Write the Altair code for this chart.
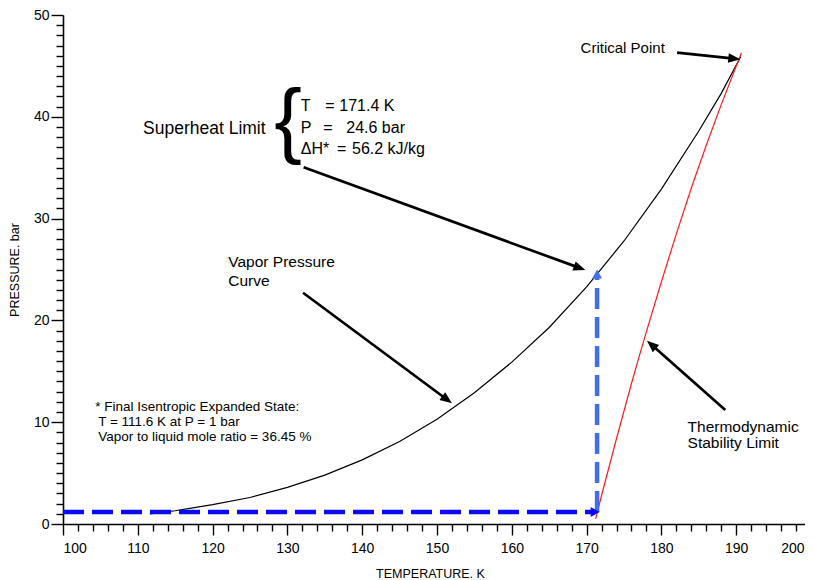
import math
import altair as alt
import pandas as pd

# ---------------- data ----------------
# Vapor pressure curve (temperature K, pressure bar)
vp_T = [111.6, 115, 120, 125, 130, 135, 140, 145, 150, 155, 160, 165, 170, 175, 180, 185, 188, 190.6]
vp_P = [1.0, 1.3, 1.9, 2.6, 3.6, 4.8, 6.3, 8.1, 10.3, 12.9, 15.9, 19.3, 23.3, 27.8, 32.9, 38.6, 42.3, 45.9]

# Thermodynamic stability limit
sl_T = [171.2, 172, 173, 174, 175, 176, 177, 178, 180, 182, 184, 186, 188, 190.7]
sl_P = [0.5, 2.8, 5.6, 8.4, 11.1, 13.8, 16.4, 18.9, 23.8, 28.5, 33.0, 37.2, 41.2, 46.3]

# black annotation arrows: start -> tip
arr_T0 = [182.1, 132.17, 132.09, 188.54]
arr_P0 = [46.3, 35.04, 22.72, 11.2]
arr_T1 = [190.55, 169.83, 152.0, 178.07]
arr_P1 = [45.65, 24.95, 11.86, 18.0]

# blue dashed path: expansion state -> superheat limit
blue_T0 = [100.0, 171.4]
blue_P0 = [1.18, 1.18]
blue_T1 = [171.75, 171.4]
blue_P1 = [1.18, 25.0]
blue_col = ["#0a0af5", "#3f6ef2"]

# annotation texts
txt_text = ["Critical Point", "Superheat Limit",
            "T", "=", "171.4 K",
            "P", "=", "24.6 bar",
            "\u0394H*", "=", "56.2 kJ/kg",
            "Vapor Pressure", "Curve",
            "* Final Isentropic Expanded State:",
            "T = 111.6 K at P = 1 bar",
            "Vapor to liquid mole ratio = 36.45 %",
            "Thermodynamic", "Stability Limit"]
txt_T = [169.2, 110.7,
         131.8, 135.07, 136.94,
         131.8, 134.8, 137.87,
         131.8, 136.63, 138.64,
         122.1, 122.1,
         104.3, 104.7, 104.7,
         183.5, 183.5]
txt_P = [46.27, 38.3,
         40.57, 40.57, 40.57,
         38.41, 38.41, 38.41,
         36.35, 36.35, 36.35,
         25.27, 23.38,
         11.13, 9.63, 8.18,
         9.07, 7.44]
txt_size = [15, 17.5,
            16, 16, 16,
            16, 16, 16,
            16, 16, 16,
            15.5, 15.5,
            13.5, 13.5, 13.5,
            15.5, 15.5]

brace_T = [130.1]
brace_P = [36.9]

x_ticks = list(range(100, 201, 2))
y_ticks = list(range(0, 51, 1))

# ---------------- chart ----------------
W, H = 748, 509
XD, YD = [100, 200], [0, 50]
kx = W / (XD[1] - XD[0])
ky = H / (YD[1] - YD[0])
FONT = "Liberation Sans"


def arrow_parts(T0, P0, T1, P1, L):
    dx = (T1 - T0) * kx
    dy = -(P1 - P0) * ky
    n = math.hypot(dx, dy)
    ux, uy = dx / n, dy / n
    Tb = T1 - L * 0.7 * ux / kx
    Pb = P1 + L * 0.7 * uy / ky
    ang = math.degrees(math.atan2(dx, -dy)) % 360
    return Tb, Pb, ang


X = alt.X("x:Q", scale=alt.Scale(domain=XD, nice=False, zero=False),
          axis=alt.Axis(values=x_ticks, title="TEMPERATURE. K", grid=False,
                        tickSize={"condition": {"test": "datum.value % 10 === 0", "value": 11}, "value": 7},
                        labelExpr="datum.value % 10 === 0 ? datum.label : ''",
                        labelFlush=True,
                        labelOffset={"condition": {"test": "datum.value === 200", "value": -7}, "value": 0},
                        labelPadding=6, labelFontSize=14, labelFont=FONT, labelColor="black",
                        domainColor="black", domainWidth=1.6, tickColor="black", tickWidth=1.4,
                        titleFont=FONT, titleFontSize=12.5, titleFontWeight="normal", titleColor="black",
                        titleX=367, titleY=53, titleAlign="center", titleBaseline="alphabetic"))
Y = alt.Y("y:Q", scale=alt.Scale(domain=YD, nice=False, zero=False),
          axis=alt.Axis(values=y_ticks, title="PRESSURE. bar", grid=False,
                        tickSize={"condition": {"test": "datum.value % 10 === 0", "value": 12}, "value": 7},
                        labelExpr="datum.value % 10 === 0 ? datum.label : ''",
                        labelFlush=False,
                        labelPadding=2, labelFontSize=14, labelFont=FONT, labelColor="black",
                        domainColor="black", domainWidth=1.6, tickColor="black", tickWidth=1.4,
                        titleFont=FONT, titleFontSize=12.5, titleFontWeight="normal", titleColor="black",
                        titleX=-49, titleY=254.5, titleAngle=270, titleAlign="center",
                        titleBaseline="middle"))

vp_df = pd.DataFrame({"x": vp_T, "y": vp_P})
sl_df = pd.DataFrame({"x": sl_T, "y": sl_P})

vp_line = alt.Chart(vp_df).mark_line(color="black", strokeWidth=1.2).encode(x=X, y=Y)
sl_line = alt.Chart(sl_df).mark_line(color="#ff1a1a", strokeWidth=1.2).encode(x=X, y=Y)

# black arrows
rows_r, rows_h = [], []
for T0, P0, T1, P1 in zip(arr_T0, arr_P0, arr_T1, arr_P1):
    Tb, Pb, ang = arrow_parts(T0, P0, T1, P1, 12)
    rows_r.append({"x": T0, "y": P0, "x2": Tb, "y2": Pb})
    rows_h.append({"x": T1, "y": P1, "angle": ang})
arr_rules = alt.Chart(pd.DataFrame(rows_r)).mark_rule(color="black", strokeWidth=2.7).encode(
    x=X, y=Y, x2="x2:Q", y2="y2:Q")
arr_heads = alt.Chart(pd.DataFrame(rows_h)).mark_point(
    shape="M0,0L-0.4,1L0.4,1Z", filled=True, color="black", opacity=1, size=576, strokeWidth=0
).encode(x=X, y=Y, angle=alt.Angle("angle:Q", scale=None))

# blue dashed arrows
rows_b, rows_bh = [], []
for T0, P0, T1, P1, c in zip(blue_T0, blue_P0, blue_T1, blue_P1, blue_col):
    Tb, Pb, ang = arrow_parts(T0, P0, T1, P1, 9)
    rows_b.append({"x": T0, "y": P0, "x2": Tb, "y2": Pb, "c": c})
    rows_bh.append({"x": T1, "y": P1, "angle": ang, "c": c})
blue_rules = alt.Chart(pd.DataFrame(rows_b)).mark_rule(strokeWidth=4.5, strokeDash=[21, 8]).encode(
    x=X, y=Y, x2="x2:Q", y2="y2:Q", color=alt.Color("c:N", scale=None))
blue_heads = alt.Chart(pd.DataFrame(rows_bh)).mark_point(
    shape="M0,0L-0.55,1L0.55,1Z", filled=True, opacity=1, size=324, strokeWidth=0
).encode(x=X, y=Y, angle=alt.Angle("angle:Q", scale=None), color=alt.Color("c:N", scale=None))

txt_df = pd.DataFrame({"x": txt_T, "y": txt_P, "t": txt_text, "s": txt_size})
texts = alt.Chart(txt_df).mark_text(align="left", baseline="alphabetic", font=FONT, color="black").encode(
    x=X, y=Y, text="t:N", size=alt.Size("s:Q", scale=None, legend=None))

brace = alt.Chart(pd.DataFrame({"x": brace_T, "y": brace_P, "t": ["{"]})).mark_text(
    align="center", baseline="alphabetic", font=FONT, fontSize=83, color="black").encode(
    x=X, y=Y, text="t:N")

chart = alt.layer(vp_line, sl_line, blue_rules, blue_heads, arr_rules, arr_heads, texts, brace).properties(
    width=W, height=H, autosize="none",
    padding={"left": 55, "top": 7, "right": -6, "bottom": 56},
    background="white",
).configure_view(stroke=None)

chart.save("out.html", embed_options={"renderer": "svg", "actions": False})
